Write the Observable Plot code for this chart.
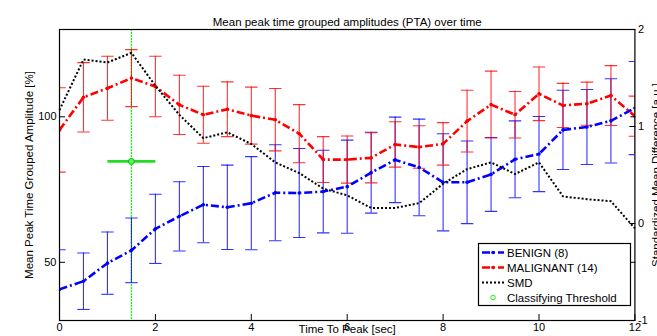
<!DOCTYPE html>
<html><head><meta charset="utf-8">
<script src="https://cdn.jsdelivr.net/npm/d3@7"></script>
<script src="https://cdn.jsdelivr.net/npm/@observablehq/plot@0.6"></script>
<style>
body{margin:0;background:#fff;}
#wrap{position:relative;width:657px;height:336px;overflow:hidden;background:#fff;}
#wrap svg{position:absolute;left:0;top:0;}
</style></head><body><div id="wrap"></div>
<script>
// ---- data ----
const times = [0,0.5,1,1.5,2,2.5,3,3.5,4,4.5,5,5.5,6,6.5,7,7.5,8,8.5,9,9.5,10,10.5,11,11.5,12];
const benignMean = [40.7,43.5,49.7,54.1,61.5,65.8,69.8,68.9,70.3,73.9,73.8,74.3,76.0,80.8,85.2,82.6,77.5,77.5,80.2,85.4,87.2,95.5,96.5,98.6,103.0];
const benignSD   = [13.6,9.7,10.7,11.1,11.9,11.9,13.1,14.5,16.0,16.5,15.3,14.2,16.0,13.9,14.7,16.6,16.7,14.2,12.7,13.2,12.9,13.6,12.9,14.5,16.0];
const malignantMean = [95.5,106.7,109.8,113.3,110.4,104.1,100.7,102.6,100.4,99.0,94.2,85.3,85.3,85.9,90.5,89.6,90.7,98.5,104.2,100.7,107.9,103.9,104.5,107.3,100.2];
const malignantSD   = [14.5,11.9,11.0,9.8,10.4,10.2,9.8,9.4,9.8,10.7,10.0,7.9,8.1,8.6,7.8,7.3,7.3,10.6,11.5,8.0,9.2,7.6,7.4,10.3,6.9];
const smd = [1.17,1.69,1.66,1.76,1.42,1.12,0.88,0.94,0.82,0.63,0.52,0.36,0.29,0.16,0.16,0.21,0.41,0.56,0.63,0.51,0.63,0.28,0.25,0.23,-0.05];
const thresholdTime = [1.5];
const thresholdHalfWidth = [0.5];
const thresholdSMD = [0.64];
const xTicks = [0,2,4,6,8,10,12];
const leftTicks = [50,100];
const rightTicks = [-1,0,1,2];
const titleText = "Mean peak time grouped amplitudes (PTA) over time";
const xLabel = "Time To Peak [sec]";
const yLabelLeft = "Mean Peak Time Grouped Amplitude [%]";
const yLabelRight = "Standardized Mean Difference [a.u.]";
const legendLabels = ["BENIGN (8)","MALIGNANT (14)","SMD","Classifying Threshold"];

// ---- build ----
const W=657,H=336;
const font = "'Liberation Sans', Arial, Helvetica, sans-serif";
const base = {width:W,height:H,marginLeft:59,marginRight:22.6,marginTop:29,marginBottom:16,
  style:{fontFamily:font,fontSize:"11px",background:"transparent",color:"black",overflow:"visible"}};
const BLUE="#0000ff", RED="#ff0000", GREEN="#22dd22";
const capW = 0.13;
const benign = times.map((t,i)=>({t,m:benignMean[i],lo:benignMean[i]-benignSD[i],hi:benignMean[i]+benignSD[i]}));
const malignant = times.map((t,i)=>({t,m:malignantMean[i],lo:malignantMean[i]-malignantSD[i],hi:malignantMean[i]+malignantSD[i]}));
const smdData = times.map((t,i)=>({t,v:smd[i]}));
const thr = thresholdTime.map((t,i)=>({t,w:thresholdHalfWidth[i],v:thresholdSMD[i]}));

function errMarks(data, color){
  const o = {stroke:color, strokeOpacity:0.8, strokeWidth:1.1, clip:true};
  return [
    Plot.ruleX(data,{x:"t",y1:"lo",y2:"hi",...o}),
    Plot.link(data,{x1:d=>d.t-capW,x2:d=>d.t+capW,y1:"hi",y2:"hi",...o}),
    Plot.link(data,{x1:d=>d.t-capW,x2:d=>d.t+capW,y1:"lo",y2:"lo",...o})
  ];
}
function meanMarks(data,color){
  return [
    Plot.line(data,{x:"t",y:"m",stroke:color,strokeWidth:2.6,strokeDasharray:"8,3,2,3",strokeLinecap:"butt",clip:true}),
    Plot.dot(data,{x:"t",y:"m",r:1.8,fill:color,stroke:"none",clip:true})
  ];
}

const p1 = Plot.plot({
  ...base,
  x:{domain:[0,12]},
  y:{domain:[30,130]},
  marks:[
    Plot.ruleX(thresholdTime,{x:d=>d,stroke:"#00ff00",strokeWidth:1.2,strokeDasharray:"2,1",strokeLinecap:"butt"}),
    ...errMarks(benign,BLUE),
    ...errMarks(malignant,RED),
    ...meanMarks(benign,BLUE),
    ...meanMarks(malignant,RED),
    Plot.frame({stroke:"black",strokeWidth:1.2}),
    Plot.axisX({ticks:xTicks,tickSize:0,tickPadding:3,label:null,tickFormat:d=>String(d),fontSize:"11px"}),
    Plot.axisX({ticks:xTicks,tickSize:6,dy:-6,tickFormat:()=>"",label:null}),
    Plot.axisY({ticks:leftTicks,anchor:"left",tickSize:0,tickPadding:3,label:null,tickFormat:d=>String(d),fontSize:"11px"}),
    Plot.axisY({ticks:leftTicks,anchor:"left",tickSize:6,dx:6,tickFormat:()=>"",label:null}),
    Plot.axisY({ticks:leftTicks,anchor:"right",tickSize:5,dx:-5,tickFormat:()=>"",label:null}),
    Plot.text([titleText],{text:d=>d,frameAnchor:"top",dy:-12,fontSize:11.5}),
    Plot.text([xLabel],{text:d=>d,frameAnchor:"bottom",lineAnchor:"top",textAnchor:"middle",dy:4,fontSize:11.5}),
    Plot.text([yLabelLeft],{text:d=>d,frameAnchor:"left",textAnchor:"middle",rotate:-90,dx:-30,fontSize:11.5})
  ]
});

const p2 = Plot.plot({
  ...base,
  x:{domain:[0,12],axis:null},
  y:{domain:[-1,2]},
  marks:[
    Plot.line(smdData,{x:"t",y:"v",stroke:"black",strokeWidth:2,strokeDasharray:"2,2",strokeLinecap:"butt"}),
    Plot.link(thr,{x1:d=>d.t-d.w,x2:d=>d.t+d.w,y1:"v",y2:"v",stroke:GREEN,strokeWidth:2.6}),
    Plot.dot(thr,{x:"t",y:"v",r:3,stroke:"#00bb00",fill:"#66ee66",strokeWidth:1}),
    Plot.axisY({ticks:rightTicks,anchor:"right",tickSize:0,tickPadding:3,label:null,tickFormat:d=>String(d),fontSize:"11px"}),
    Plot.axisY({ticks:rightTicks,anchor:"right",tickSize:6,dx:-6,tickFormat:()=>"",label:null}),
    Plot.text([yLabelRight],{text:d=>d,frameAnchor:"right",textAnchor:"middle",rotate:-90,dx:21,fontSize:11.5})
  ]
});

const wrap = document.getElementById("wrap");
wrap.appendChild(p1);
wrap.appendChild(p2);

// legend overlay
const leg = d3.select(wrap).append("svg").attr("width",W).attr("height",H)
  .style("font-family",font).style("font-size","11.5px");
leg.append("rect").attr("x",478.5).attr("y",243.5).attr("width",152).attr("height",62)
  .attr("fill","white").attr("stroke","black").attr("stroke-width",1.2);
const rowY=[252.5,267.5,282.5,297.5];
const styles=[
  {c:BLUE,w:2.6,dash:"8,3,2,3",dot:true},
  {c:RED,w:2.6,dash:"8,3,2,3",dot:true},
  {c:"black",w:2,dash:"2,2",dot:false},
  {c:null}
];
legendLabels.forEach((lab,i)=>{
  const y=rowY[i], s=styles[i];
  if(s.c){
    leg.append("line").attr("x1",482).attr("x2",504).attr("y1",y).attr("y2",y)
      .attr("stroke",s.c).attr("stroke-width",s.w).attr("stroke-dasharray",s.dash);
    if(s.dot) leg.append("circle").attr("cx",493).attr("cy",y).attr("r",1.8).attr("fill",s.c);
  } else {
    leg.append("circle").attr("cx",493).attr("cy",y).attr("r",2.3).attr("fill","none").attr("stroke","#22ee22").attr("stroke-width",1);
  }
  leg.append("text").attr("x",507).attr("y",y).attr("dy","0.35em").text(lab);
});
</script></body></html>
